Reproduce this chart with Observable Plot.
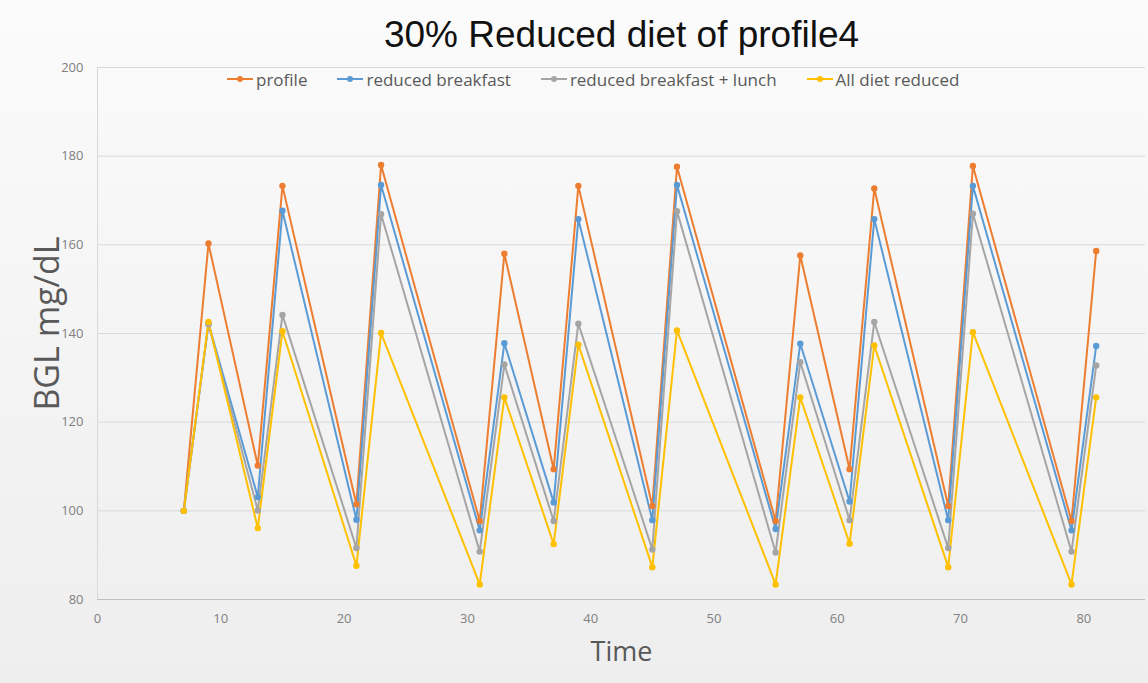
<!DOCTYPE html>
<html>
<head>
<meta charset="utf-8">
<script src="https://cdn.jsdelivr.net/npm/d3@7"></script>
<script src="https://cdn.jsdelivr.net/npm/@observablehq/plot@0.6"></script>
<style>
  html, body { margin: 0; padding: 0; }
  body { width: 1148px; height: 683px; overflow: hidden;
         background: linear-gradient(to bottom, #fbfbfb 0%, #f3f3f3 60%, #eeeeee 100%); }
  #wrap { position: relative; width: 1148px; height: 683px; }
  #legend { position: absolute; left: 227px; top: 66px; height: 26px; display: flex; align-items: center;
            font-family: "Open Sans", sans-serif; font-size: 17px; color: #595959; }
  .item { display: flex; align-items: center; margin-right: 30px; }
  .item svg { margin-right: 3px; }
</style>
</head>
<body>
<div id="wrap"><div id="legend"></div></div>
<script>
const seriesNames = ["profile", "reduced breakfast", "reduced breakfast + lunch", "All diet reduced"];
const seriesColors = ["#ED7D31", "#5B9BD5", "#A5A5A5", "#FFC000"];
const times = [7, 9, 13, 15, 21, 23, 31, 33, 37, 39, 45, 47, 55, 57, 61, 63, 69, 71, 79, 81];
const profile = [100, 160.3, 110.2, 173.3, 101.5, 178.0, 97.7, 158.0, 109.4, 173.3, 101.1, 177.6, 97.7, 157.6, 109.4, 172.7, 101.1, 177.8, 97.7, 158.6];
const reducedBreakfast = [100, 142.3, 103.1, 167.7, 98.0, 173.5, 95.6, 137.8, 101.9, 165.8, 97.9, 173.5, 95.9, 137.7, 102.1, 165.8, 97.9, 173.3, 95.6, 137.2];
const reducedBreakfastLunch = [100, 142.1, 100.1, 144.2, 91.6, 166.9, 90.8, 133.0, 97.7, 142.2, 91.3, 167.6, 90.6, 133.5, 97.9, 142.6, 91.6, 167.0, 90.8, 132.8];
const allDietReduced = [100, 142.6, 96.1, 140.5, 87.6, 140.1, 83.4, 125.6, 92.5, 137.5, 87.3, 140.7, 83.4, 125.6, 92.6, 137.3, 87.3, 140.3, 83.4, 125.6];
const xTicks = [0, 10, 20, 30, 40, 50, 60, 70, 80];
const yTicks = [80, 100, 120, 140, 160, 180, 200];
const titleText = "30% Reduced diet of profile4";
const xLabel = "Time";
const yLabel = "BGL mg/dL";

const allSeries = [profile, reducedBreakfast, reducedBreakfastLunch, allDietReduced];
const data = [];
allSeries.forEach((vals, s) => vals.forEach((v, i) => data.push({series: seriesNames[s], time: times[i], bgl: v})));

const chart = Plot.plot({
  width: 1148,
  height: 683,
  marginTop: 67,
  marginBottom: 84,
  marginLeft: 97,
  marginRight: 3,
  style: {background: "transparent", fontFamily: "'Open Sans', sans-serif"},
  x: {domain: [0, 85]},
  y: {domain: [80, 200]},
  color: {domain: seriesNames, range: seriesColors},
  marks: [
    Plot.ruleY(yTicks.filter(d => d > 80), {stroke: "#d9d9d9", strokeWidth: 1}),
    Plot.ruleX([0], {stroke: "#d9d9d9", strokeWidth: 1}),
    Plot.ruleY([80], {stroke: "#bfbfbf", strokeWidth: 1}),
    Plot.axisY({ticks: yTicks, tickSize: 0, tickPadding: 14, label: null, fontSize: 13, fill: "#808080"}),
    Plot.axisX({ticks: xTicks, tickSize: 0, tickPadding: 14, label: null, fontSize: 13, fill: "#808080"}),
    Plot.line(data, {x: "time", y: "bgl", z: "series", stroke: "series", strokeWidth: 2}),
    Plot.dot(data, {x: "time", y: "bgl", fill: "series", r: 3.2}),
    Plot.text([titleText], {frameAnchor: "top", lineAnchor: "middle", dy: -32, fontSize: 37, fill: "#111", fontFamily: "'Liberation Sans', Arial, sans-serif"}),
    Plot.text([yLabel], {frameAnchor: "left", textAnchor: "middle", lineAnchor: "middle", dx: -49, dy: -10, rotate: -90, fontSize: 34, fill: "#595959"}),
    Plot.text([xLabel], {frameAnchor: "bottom", lineAnchor: "middle", dy: 53, fontSize: 27, fill: "#595959"})
  ]
});
document.getElementById("wrap").prepend(chart);

const legend = document.getElementById("legend");
seriesNames.forEach((name, i) => {
  const item = document.createElement("div");
  item.className = "item";
  item.innerHTML = `<svg width="26" height="10"><line x1="0" y1="5" x2="26" y2="5" stroke="${seriesColors[i]}" stroke-width="2"/><circle cx="13" cy="5" r="3" fill="${seriesColors[i]}"/></svg><span>${name}</span>`;
  legend.appendChild(item);
});
</script>
</body>
</html>
